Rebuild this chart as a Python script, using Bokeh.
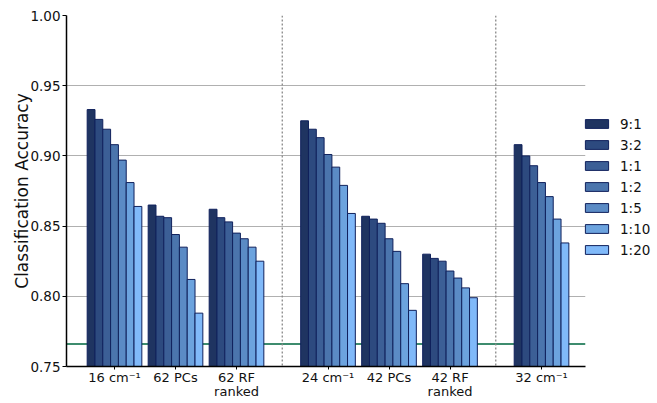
from bokeh.plotting import figure
from bokeh.models import Span, Legend, LegendItem, FixedTicker, ColumnDataSource
from bokeh.embed import file_html
from bokeh.resources import INLINE

# ---- data ----
groups = ["16 cm\u207b\u00b9", "62 PCs", "62 RF\nranked",
          "24 cm\u207b\u00b9", "42 PCs", "42 RF\nranked",
          "32 cm\u207b\u00b9"]
sections = [3, 3, 1]  # groups per section, separated by dotted lines
ratios = ["9:1", "3:2", "1:1", "1:2", "1:5", "1:10", "1:20"]
acc_9_1  = [0.933, 0.865, 0.862, 0.925, 0.857, 0.830, 0.908]
acc_3_2  = [0.926, 0.857, 0.856, 0.919, 0.855, 0.827, 0.900]
acc_1_1  = [0.919, 0.856, 0.853, 0.913, 0.852, 0.825, 0.893]
acc_1_2  = [0.908, 0.844, 0.845, 0.901, 0.841, 0.818, 0.881]
acc_1_5  = [0.897, 0.835, 0.841, 0.892, 0.832, 0.813, 0.871]
acc_1_10 = [0.881, 0.812, 0.835, 0.879, 0.809, 0.806, 0.855]
acc_1_20 = [0.864, 0.788, 0.825, 0.859, 0.790, 0.799, 0.838]
series = [acc_9_1, acc_3_2, acc_1_1, acc_1_2, acc_1_5, acc_1_10, acc_1_20]
baseline = 0.766
y_ticks = [0.75, 0.80, 0.85, 0.90, 0.95, 1.00]

colors = ["#1f3461", "#2d4a7f", "#3c5f96", "#4b75ad", "#5b8bc5", "#6ca3de", "#80b9f9"]
edge = "#10215c"

# group centre positions (gap of 0.5 between sections)
centers = []
dividers = []
pos = 0.0
for si, n in enumerate(sections):
    for k in range(n):
        centers.append(pos)
        pos += 1.0
    if si < len(sections) - 1:
        dividers.append(pos - 0.25)
        pos += 0.5

bw = 0.128

p = figure(frame_width=519, frame_height=351, output_backend="svg",
           toolbar_location=None,
           x_range=(-0.787, 7.721), y_range=(0.75, 1.0),
           min_border_left=66, min_border_right=0, min_border_top=15,
           min_border_bottom=34)
p.outline_line_color = None
p.background_fill_color = "white"
p.border_fill_color = "white"

p.xgrid.grid_line_color = None
p.ygrid.grid_line_color = "#b0b0b0"
p.ygrid.grid_line_width = 1
p.ygrid.ticker = FixedTicker(ticks=y_ticks)

p.add_layout(Span(location=baseline, dimension="width", line_color="#3d8c6e",
                  line_width=2, level="underlay"))
for d in dividers:
    p.add_layout(Span(location=d, dimension="height", line_color="#888888",
                      line_width=1.3, line_dash="2 2", level="underlay"))

items = []
for i, (vals, lab, c) in enumerate(zip(series, ratios, colors)):
    xs = [cx + (i - 3) * bw for cx in centers]
    src = ColumnDataSource(dict(x=xs, top=vals))
    r = p.vbar(x="x", top="top", bottom=0.75, width=bw, source=src,
               fill_color=c, line_color=edge, line_width=1)
    items.append(LegendItem(label=lab, renderers=[r]))

legend = Legend(items=items, location=(-3, 106), orientation="vertical",
                glyph_width=29, glyph_height=11, label_height=21, spacing=0,
                label_standoff=9, padding=0, margin=0,
                border_line_color=None, background_fill_alpha=0,
                label_text_font="DejaVu Sans", label_text_font_size="13.5px",
                label_text_color="#111111")
p.add_layout(legend, "right")

# axes
p.yaxis.ticker = FixedTicker(ticks=y_ticks)
p.yaxis.major_label_overrides = {t: f"{t:.2f}" for t in y_ticks}
p.yaxis.axis_label = "Classification Accuracy"
p.yaxis.axis_label_text_font = "DejaVu Sans"
p.yaxis.axis_label_text_font_size = "17px"
p.yaxis.axis_label_text_font_style = "normal"
p.yaxis.axis_label_text_color = "#111111"
p.yaxis.axis_label_standoff = -5
p.xaxis.ticker = FixedTicker(ticks=centers)
p.xaxis.major_label_overrides = {c: g for c, g in zip(centers, groups)}
for ax in (p.xaxis, p.yaxis):
    ax.major_label_text_font = "DejaVu Sans"
    ax.major_label_text_font_size = "13.5px"
    ax.major_label_text_color = "#111111"
    ax.axis_line_color = "black"
    ax.axis_line_width = 1.5
    ax.major_tick_line_color = "black"
    ax.major_tick_in = 0
    ax.major_tick_out = 4
    ax.minor_tick_line_color = None
p.yaxis.major_label_standoff = 2
p.xaxis.major_label_standoff = 0
p.xaxis.major_tick_out = 3
p.xaxis.major_label_text_font_size = "13px"
p.xaxis.major_label_text_line_height = 0.95

open("out.html", "w").write(file_html(p, INLINE))
